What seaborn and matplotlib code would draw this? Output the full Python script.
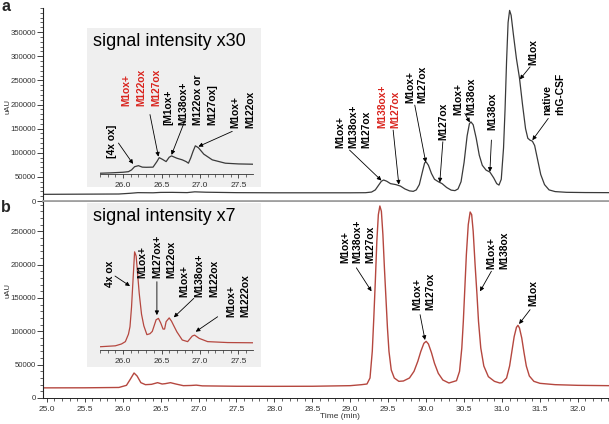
import matplotlib
matplotlib.use('Agg')
import matplotlib.pyplot as plt
from matplotlib.ticker import MultipleLocator, FormatStrFormatter
import seaborn as sns

# panel a - full chromatogram (time in min, signal in uAU)
a_time = [24.95, 25.5, 25.95, 26.10, 26.20, 26.40, 26.50, 26.65, 26.85, 26.95, 27.10, 27.50, 28.00,
          28.50, 29.00, 29.20, 29.28, 29.33, 29.37, 29.41, 29.44, 29.48, 29.53, 29.60, 29.66, 29.72,
          29.78, 29.83, 29.87, 29.91, 29.95, 29.98, 30.00, 30.03, 30.07, 30.11, 30.16, 30.21, 30.27,
          30.33, 30.38, 30.42, 30.46, 30.50, 30.54, 30.57, 30.59, 30.62, 30.66, 30.70, 30.74, 30.79,
          30.84, 30.89, 30.93, 30.96, 30.99, 31.02, 31.04, 31.06, 31.08, 31.10, 31.12, 31.15, 31.19,
          31.23, 31.27, 31.31, 31.34, 31.37, 31.40, 31.43, 31.47, 31.51, 31.56, 31.62, 31.70, 31.85,
          32.10, 32.41]
a_uau = [13800, 14200, 14500, 16000, 17300, 17000, 17800, 17900, 17400, 19000, 18200, 17300, 17000,
         17000, 17000, 17200, 18500, 23000, 32000, 41000, 43500, 41000, 36000, 34000, 31000, 25000,
         21000, 20000, 23000, 34000, 60000, 79000, 81000, 74000, 57000, 45000, 40000, 36000, 28000,
         22500, 21500, 25000, 40000, 80000, 135000, 160000, 164000, 158000, 130000, 95000, 74000, 64000,
         60000, 48000, 36000, 33000, 45000, 110000, 190000, 290000, 370000, 395000, 385000, 345000, 295000,
         255000, 200000, 150000, 130000, 126000, 124000, 115000, 85000, 55000, 34000, 23000, 19500, 18000,
         17500, 17300]

# panel a - inset (x30)
ia_time = [25.69, 25.85, 26.00, 26.07, 26.11, 26.15, 26.20, 26.25, 26.30, 26.39, 26.44, 26.47, 26.51,
           26.56, 26.60, 26.63, 26.70, 26.77, 26.82, 26.85, 26.88, 26.91, 26.94, 26.98, 27.05, 27.16,
           27.33, 27.50, 27.69]
ia_uau = [15050, 15080, 15120, 15160, 15280, 15500, 15570, 15470, 15460, 15470, 15850, 16120, 16010,
          15850, 16150, 16240, 16080, 15970, 15850, 15740, 16100, 16550, 16930, 16800, 16360, 15970,
          15740, 15690, 15670]

# panel b - full chromatogram
b_time = [24.95, 25.50, 25.95, 26.05, 26.10, 26.15, 26.19, 26.24, 26.30, 26.38, 26.46, 26.52, 26.56,
          26.63, 26.70, 26.80, 26.90, 26.97, 27.05, 27.50, 28.00, 28.50, 29.00, 29.15, 29.22, 29.26,
          29.29, 29.31, 29.33, 29.35, 29.37, 29.39, 29.41, 29.43, 29.45, 29.47, 29.49, 29.51, 29.54,
          29.58, 29.64, 29.70, 29.78, 29.84, 29.89, 29.93, 29.97, 30.00, 30.03, 30.07, 30.11, 30.16,
          30.22, 30.30, 30.40, 30.44, 30.47, 30.49, 30.51, 30.53, 30.555, 30.58, 30.60, 30.62, 30.645,
          30.67, 30.69, 30.72, 30.76, 30.82, 30.90, 30.97, 31.00, 31.06, 31.10, 31.13, 31.16, 31.19,
          31.21, 31.23, 31.26, 31.29, 31.32, 31.36, 31.42, 31.50, 31.70, 32.00, 32.41]
b_uau = [15200, 15300, 15800, 19000, 28000, 37500, 33000, 23000, 20000, 20500, 23000, 21000, 21500,
         23000, 21000, 18500, 18800, 19300, 18200, 17600, 17500, 17600, 18500, 20000, 21000, 30000,
         70000, 120000, 175000, 235000, 275000, 288000, 280000, 245000, 195000, 150000, 105000, 70000, 42000,
         30000, 25000, 25500, 30000, 40000, 55000, 70000, 82000, 85000, 81000, 68000, 52000, 37000,
         27000, 22500, 26000, 40000, 75000, 115000, 165000, 215000, 260000, 279000, 275000, 250000, 200000,
         155000, 115000, 75000, 48000, 32000, 25000, 22500, 23000, 30000, 48000, 70000, 92000, 106000,
         109000, 105000, 90000, 68000, 48000, 33000, 25000, 22000, 20000, 19000, 18500]

# panel b - inset (x7)
ib_time = [25.70, 25.90, 25.98, 26.03, 26.07, 26.09, 26.11, 26.13, 26.15, 26.17, 26.19, 26.21, 26.24,
           26.27, 26.31, 26.35, 26.38, 26.41, 26.43, 26.46, 26.49, 26.52, 26.54, 26.56, 26.60, 26.63,
           26.66, 26.70, 26.77, 26.84, 26.90, 26.93, 26.99, 27.10, 27.36, 27.70]
ib_uau = [15500, 15700, 16100, 16600, 18200, 19800, 24000, 30000, 35900, 35000, 31000, 27000, 22500,
          20000, 18100, 18300, 18800, 20300, 21300, 21600, 20600, 19300, 19300, 20900, 21700, 21000,
          20000, 18700, 16950, 16600, 17800, 18000, 17300, 16600, 16400, 16350]

RED = '#d9231d'

sns.set_theme(style='ticks')
plt.rcParams['font.family'] = ['Liberation Sans', 'DejaVu Sans']

W, H = 609, 424
fig = plt.figure(figsize=(W / 100, H / 100), dpi=100)


def px_axes(x0, y0, x1, y1):
    # axes placed by pixel box (top-left origin)
    return fig.add_axes([x0 / W, 1 - y1 / H, (x1 - x0) / W, (y1 - y0) / H])


def label(ax, x, y, s, color='black', ls=1.35):
    ax.text(x, y, s, rotation=90, ha='center', va='bottom', multialignment='left',
            fontsize=7.4, fontweight='bold', color=color, linespacing=ls)


def arrow(ax, tail, tip):
    ax.annotate('', xy=tip, xytext=tail,
                arrowprops=dict(arrowstyle='-|>', color='black', lw=0.6,
                                shrinkA=0, shrinkB=0, mutation_scale=6))


ax_a = px_axes(43, 8, 609, 201)
ax_b = px_axes(43, 202, 609, 398)

sns.lineplot(x=a_time, y=a_uau, ax=ax_a, color='#3a3a3a', lw=0.9)
sns.lineplot(x=b_time, y=b_uau, ax=ax_b, color='#b5473f', lw=1.0)

for ax in (ax_a, ax_b):
    ax.set_facecolor('white')
    ax.set_xlim(24.95, 32.41)
    ax.spines['right'].set_visible(False)
    ax.spines['top'].set_visible(False)
    ax.spines['left'].set_linewidth(0.8)
    ax.spines['left'].set_color('#222222')
    ax.yaxis.set_minor_locator(MultipleLocator(10000))
    ax.tick_params(axis='y', which='major', length=4, width=0.6, labelsize=5.6,
                   labelcolor='#333333', pad=1, color='#222222')
    ax.tick_params(axis='y', which='minor', length=2, width=0.5, color='#222222')
    ax.set_xlabel('')
    ax.set_ylabel('')

ax_a.set_ylim(0, 400000)
ax_a.set_yticks(range(0, 400000, 50000))
ax_a.set_xticks([])
ax_a.spines['bottom'].set_color('#a0a0a0')
ax_a.spines['bottom'].set_linewidth(2)

ax_b.set_ylim(0, 294000)
ax_b.set_yticks(range(0, 300000, 50000))
ax_b.spines['bottom'].set_linewidth(0.7)
ax_b.spines['bottom'].set_color('#222222')
ax_b.xaxis.set_major_locator(MultipleLocator(0.5))
ax_b.xaxis.set_minor_locator(MultipleLocator(0.1))
ax_b.xaxis.set_major_formatter(FormatStrFormatter('%.1f'))
ax_b.tick_params(axis='x', which='major', length=3, width=0.6, labelsize=6,
                 labelcolor='#333333', pad=2.5, color='#222222')
ax_b.tick_params(axis='x', which='minor', length=2, width=0.5, color='#222222')

# main annotations, panel a
label(ax_a, 29.04, 109700, 'M1ox+\nM138ox+\nM127ox')
arrow(ax_a, (28.99, 105600), (29.41, 42500))
label(ax_a, 29.51, 150500, 'M138ox+\nM127ox', color=RED)
arrow(ax_a, (29.565, 147000), (29.64, 34000))
label(ax_a, 29.87, 202200, 'M1ox+\nM127ox')
arrow(ax_a, (29.85, 198700), (29.995, 80000))
label(ax_a, 30.23, 126300, 'M127ox')
arrow(ax_a, (30.22, 122800), (30.18, 38500))
label(ax_a, 30.51, 178000, 'M1ox+\nM138ox')
arrow(ax_a, (30.51, 181500), (30.575, 163000))
label(ax_a, 30.875, 147000, 'M138ox')
arrow(ax_a, (30.86, 126300), (30.84, 60500))
label(ax_a, 31.41, 281500, 'M1ox')
arrow(ax_a, (31.37, 278000), (31.235, 252000))
label(ax_a, 31.68, 178000, 'native\nrhG-CSF')
arrow(ax_a, (31.61, 171200), (31.40, 126000))

# main annotations, panel b
label(ax_b, 29.10, 202900, 'M1ox+\nM138ox+\nM127ox')
arrow(ax_b, (29.08, 195300), (29.28, 160000))
label(ax_b, 29.97, 132500, 'M1ox+\nM127ox')
arrow(ax_b, (29.92, 125000), (29.985, 87000))
label(ax_b, 30.95, 192800, 'M1ox+\nM138ox')
arrow(ax_b, (30.86, 190200), (30.71, 160000))
label(ax_b, 31.41, 137500, 'M1ox')
arrow(ax_b, (31.37, 132500), (31.225, 111000))

# insets
insets = [
    ((87, 28, 261, 187), (100, 28, 253, 174), (15000, 25000), ia_time, ia_uau, '#3a3a3a',
     'signal intensity x30'),
    ((87, 203, 261, 367), (100, 203, 253, 350), (14800, 46400), ib_time, ib_uau, '#b5473f',
     'signal intensity x7'),
]
ins_axes = []
for box_px, ax_px, ylim, t, v, col, title in insets:
    box = px_axes(*box_px)
    box.set_facecolor('#efefef')
    box.set_xticks([])
    box.set_yticks([])
    for sp in box.spines.values():
        sp.set_visible(False)
    box.text(0.033, 0.915, title, transform=box.transAxes, fontsize=13, va='center', ha='left',
             color='black')
    ins = px_axes(*ax_px)
    ins.patch.set_alpha(0)
    sns.lineplot(x=t, y=v, ax=ins, color=col, lw=0.9)
    ins.set_xlim(25.70, 27.69)
    ins.set_ylim(*ylim)
    ins.set_yticks([])
    ins.set_xlabel('')
    ins.set_ylabel('')
    for side in ('top', 'right', 'left'):
        ins.spines[side].set_visible(False)
    ins.spines['bottom'].set_linewidth(0.6)
    ins.spines['bottom'].set_color('#333333')
    ins.xaxis.set_major_locator(MultipleLocator(0.5))
    ins.xaxis.set_minor_locator(MultipleLocator(0.1))
    ins.xaxis.set_major_formatter(FormatStrFormatter('%.1f'))
    ins.tick_params(axis='x', which='major', length=3, width=0.6, labelsize=6,
                    labelcolor='#333333', pad=2.5, color='#333333')
    ins.tick_params(axis='x', which='minor', length=2, width=0.5, color='#333333')
    ins_axes.append(ins)

ins_a, ins_b = ins_axes

label(ins_a, 25.85, 16080, '[4x ox]', ls=1.6)
arrow(ins_a, (25.94, 17120), (26.13, 15690))
label(ins_a, 26.24, 19640, 'M1ox+\nM122ox\nM127ox', color=RED, ls=1.6)
arrow(ins_a, (26.35, 19070), (26.46, 16190))
label(ins_a, 26.875, 18380, '[M1ox+\nM138ox+\nM122ox or\nM127ox]', ls=1.6)
arrow(ins_a, (26.81, 18730), (26.63, 16310))
label(ins_a, 27.56, 18170, 'M1ox+\nM122ox', ls=1.6)
arrow(ins_a, (27.42, 17920), (26.98, 16880))

label(ins_b, 25.83, 28400, '4x ox', ls=1.6)
arrow(ins_b, (25.895, 30700), (26.09, 28550))
label(ins_b, 26.44, 30210, 'M1ox+\nM127ox+\nM122ox', ls=1.6)
arrow(ins_b, (26.44, 29480), (26.44, 22300))
label(ins_b, 26.99, 26250, 'M1ox+\nM138ox+\nM122ox', ls=1.6)
arrow(ins_b, (26.92, 25900), (26.66, 21820))
label(ins_b, 27.50, 21950, 'M1ox+\nM1222ox', ls=1.6)
arrow(ins_b, (27.23, 21950), (26.945, 18730))

# panel letters, axis titles
fig.text(1 / W, 1 - 11 / H, 'a', fontsize=11.5, fontweight='bold', va='baseline')
fig.text(1 / W, 1 - 212 / H, 'b', fontsize=11.5, fontweight='bold', va='baseline')
fig.text(8 / W, 1 - 107 / H, 'uAU', fontsize=5.6, rotation=90, va='center', ha='center',
         color='#333333')
fig.text(8 / W, 1 - 290 / H, 'uAU', fontsize=5.6, rotation=90, va='center', ha='center',
         color='#333333')
fig.text(340 / W, 1 - 416 / H, 'Time (min)', fontsize=6, va='center', ha='center', color='#333333')

fig.savefig('out.png', dpi=100)
